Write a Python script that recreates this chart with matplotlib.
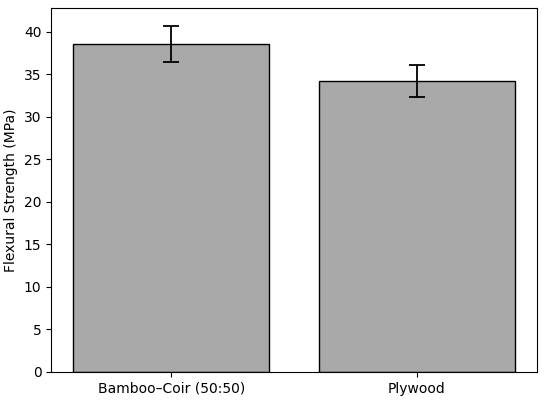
import matplotlib
matplotlib.use("Agg")
import matplotlib.pyplot as plt
import numpy as np

# Flexural strength comparison
materials = ["Bamboo\u2013Coir (50:50)", "Plywood"]
strength = [38.6, 34.2]
strength_err = [2.1, 1.9]

fig = plt.figure(figsize=(5.5, 4.03), dpi=100)
ax = fig.add_axes([0.093, 0.077, 0.883, 0.903])

x = np.arange(len(materials))
ax.bar(x, strength, width=0.8, color='#a9a9a9', edgecolor='black',
       yerr=strength_err, capsize=6, error_kw={'elinewidth': 1.3, 'capthick': 1.3})

ax.set_xticks(x)
ax.set_xticklabels(materials)
ax.set_ylabel('Flexural Strength (MPa)')
ax.set_yticks(np.arange(0, 41, 5))
ax.set_ylim(0, 42.8)

fig.savefig("out.png", dpi=100)
